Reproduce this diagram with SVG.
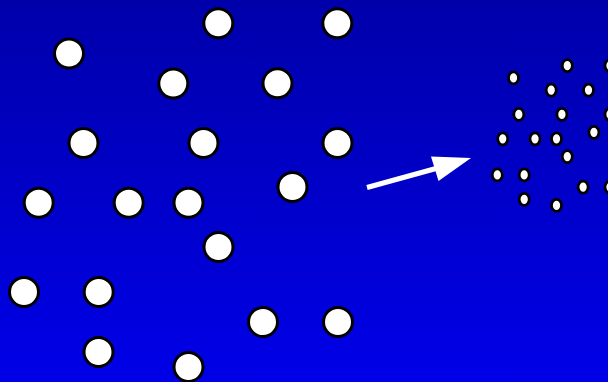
<svg xmlns="http://www.w3.org/2000/svg" width="608" height="382" viewBox="0 0 608 382">
<defs>
<linearGradient id="bg" x1="0" y1="0" x2="0" y2="1">
<stop offset="0" stop-color="#0000AA"/>
<stop offset="1" stop-color="#0000E8"/>
</linearGradient>
</defs>
<style>
.big{fill:#FFFFFF;stroke:#000000;stroke-width:3}
.small{fill:#FFFFFF;stroke:#000000;stroke-width:2.7}
.arrow{stroke:#FFFFFF;stroke-width:5;fill:none}
.head{fill:#FFFFFF}
</style>
<rect x="0" y="0" width="608" height="382" fill="url(#bg)"/>
<g id="large-cluster">
<circle class="big" cx="218.3" cy="23.3" r="14.5"/>
<circle class="big" cx="337.3" cy="23.3" r="14.5"/>
<circle class="big" cx="69" cy="53.5" r="14.5"/>
<circle class="big" cx="173.3" cy="83.5" r="14.5"/>
<circle class="big" cx="277.5" cy="83.3" r="14.5"/>
<circle class="big" cx="83.5" cy="143" r="14.5"/>
<circle class="big" cx="203.5" cy="143" r="14.5"/>
<circle class="big" cx="337.5" cy="143" r="14.5"/>
<circle class="big" cx="38.7" cy="202.8" r="14.5"/>
<circle class="big" cx="128.7" cy="202.8" r="14.5"/>
<circle class="big" cx="188.5" cy="202.8" r="14.5"/>
<circle class="big" cx="292.5" cy="187" r="14.5"/>
<circle class="big" cx="218.5" cy="247" r="14.5"/>
<circle class="big" cx="24" cy="292" r="14.5"/>
<circle class="big" cx="98.7" cy="292" r="14.5"/>
<circle class="big" cx="263" cy="322" r="14.5"/>
<circle class="big" cx="338" cy="322" r="14.5"/>
<circle class="big" cx="98.5" cy="352" r="14.5"/>
<circle class="big" cx="188.5" cy="367" r="14.5"/>
</g>
<g id="small-cluster">
<ellipse class="small" cx="567.3" cy="65.7" rx="5" ry="6"/>
<ellipse class="small" cx="610" cy="65.7" rx="5" ry="6"/>
<ellipse class="small" cx="513.5" cy="77.9" rx="5" ry="6"/>
<ellipse class="small" cx="551.2" cy="90.1" rx="5" ry="6"/>
<ellipse class="small" cx="588.5" cy="90.1" rx="5" ry="6"/>
<ellipse class="small" cx="518.8" cy="114.4" rx="5" ry="6"/>
<ellipse class="small" cx="561.9" cy="114.4" rx="5" ry="6"/>
<ellipse class="small" cx="610" cy="114.4" rx="5" ry="6"/>
<ellipse class="small" cx="502.7" cy="138.8" rx="5" ry="6"/>
<ellipse class="small" cx="535" cy="138.8" rx="5" ry="6"/>
<ellipse class="small" cx="556.5" cy="138.8" rx="5" ry="6"/>
<ellipse class="small" cx="593.9" cy="132.3" rx="5" ry="6"/>
<ellipse class="small" cx="567.3" cy="156.6" rx="5" ry="6"/>
<ellipse class="small" cx="497.3" cy="174.9" rx="5" ry="6"/>
<ellipse class="small" cx="524.2" cy="174.9" rx="5" ry="6"/>
<ellipse class="small" cx="583.1" cy="187.1" rx="5" ry="6"/>
<ellipse class="small" cx="610" cy="187.1" rx="5" ry="6"/>
<ellipse class="small" cx="524.2" cy="199.3" rx="5" ry="6"/>
<ellipse class="small" cx="556.5" cy="205.4" rx="5" ry="6"/>
</g>
<g id="connectors">
<line class="arrow" x1="367" y1="187.5" x2="436" y2="168.5"/>
<polygon class="head" points="471,158 431,156.5 438.5,181"/>
</g>
</svg>
